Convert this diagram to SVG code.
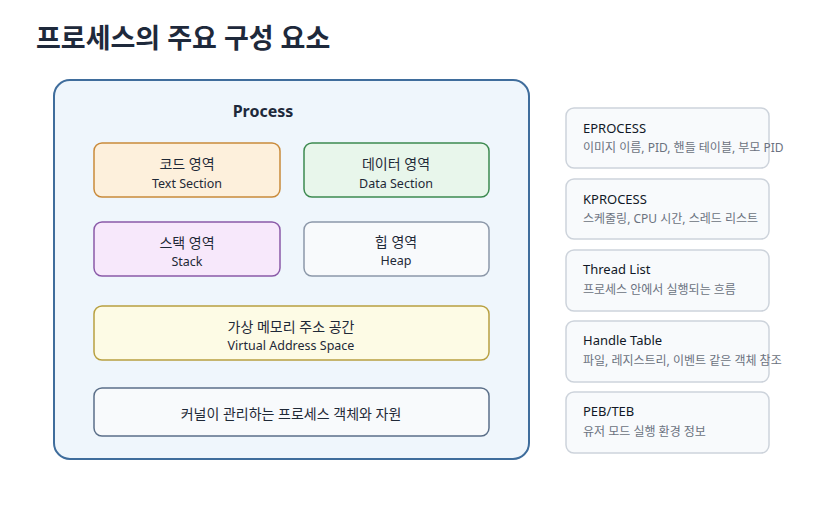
<svg xmlns="http://www.w3.org/2000/svg" width="816" height="524" viewBox="0 0 816 524">
<style>
text{font-family:"Noto Sans","Noto Sans CJK KR",sans-serif;}
.title{font-size:27px;font-weight:700;fill:#1e293b;}
.ptitle{font-size:16px;font-weight:700;fill:#1e293b;text-anchor:middle;}
.lbl{font-size:14px;fill:#1f2937;text-anchor:middle;}
.sub{font-size:12.5px;fill:#1f2937;text-anchor:middle;}
.card{fill:#f8fafc;stroke:#cdd3db;stroke-width:1.5;}
.ct{font-size:13px;fill:#111827;}
.cs{font-size:12px;fill:#6b7280;}
</style>
<rect width="816" height="524" fill="#ffffff"/>
<text class="title" x="36" y="48">프로세스의 주요 구성 요소</text>
<g id="process">
<rect x="54" y="80" width="475" height="379" rx="16" fill="#eff6fc" stroke="#3f6d9c" stroke-width="2"/>
<text class="ptitle" x="263" y="117">Process</text>
</g>
<g id="code">
<rect x="94" y="143" width="186" height="54" rx="8" fill="#fdf0dc" stroke="#c98a3a" stroke-width="1.5"/>
<text class="lbl" x="187" y="169">코드 영역</text>
<text class="sub" x="187" y="188">Text Section</text>
</g>
<g id="data">
<rect x="304" y="143" width="185" height="54" rx="8" fill="#e8f6eb" stroke="#3d8a50" stroke-width="1.5"/>
<text class="lbl" x="396" y="169">데이터 영역</text>
<text class="sub" x="396" y="188">Data Section</text>
</g>
<g id="stack">
<rect x="94" y="222" width="186" height="54" rx="8" fill="#f7e8fb" stroke="#8a5aa8" stroke-width="1.5"/>
<text class="lbl" x="187" y="248">스택 영역</text>
<text class="sub" x="187" y="266">Stack</text>
</g>
<g id="heap">
<rect x="304" y="222" width="185" height="54" rx="8" fill="#f8fafc" stroke="#8c98a9" stroke-width="1.5"/>
<text class="lbl" x="396" y="247">힙 영역</text>
<text class="sub" x="396" y="265">Heap</text>
</g>
<g id="vas">
<rect x="94" y="306" width="395" height="54" rx="8" fill="#fdfbe5" stroke="#b8a040" stroke-width="1.5"/>
<text class="lbl" x="291" y="332">가상 메모리 주소 공간</text>
<text class="sub" x="291" y="350">Virtual Address Space</text>
</g>
<g id="kernel">
<rect x="94" y="388" width="395" height="48" rx="8" fill="#f8fafc" stroke="#5b6f89" stroke-width="1.5"/>
<text class="lbl" x="291" y="419">커널이 관리하는 프로세스 객체와 자원</text>
</g>
<g id="eprocess">
<rect class="card" x="566" y="108" width="203" height="60" rx="8"/>
<text class="ct" x="583" y="133">EPROCESS</text>
<text class="cs" x="583" y="152">이미지 이름, PID, 핸들 테이블, 부모 PID</text>
</g>
<g id="kprocess">
<rect class="card" x="566" y="179" width="203" height="60" rx="8"/>
<text class="ct" x="583" y="204">KPROCESS</text>
<text class="cs" x="583" y="223">스케줄링, CPU 시간, 스레드 리스트</text>
</g>
<g id="threadlist">
<rect class="card" x="566" y="250" width="203" height="61" rx="8"/>
<text class="ct" x="583" y="274">Thread List</text>
<text class="cs" x="583" y="294">프로세스 안에서 실행되는 흐름</text>
</g>
<g id="handletable">
<rect class="card" x="566" y="321" width="203" height="61" rx="8"/>
<text class="ct" x="583" y="345">Handle Table</text>
<text class="cs" x="583" y="365">파일, 레지스트리, 이벤트 같은 객체 참조</text>
</g>
<g id="pebteb">
<rect class="card" x="566" y="392" width="203" height="61" rx="8"/>
<text class="ct" x="583" y="416">PEB/TEB</text>
<text class="cs" x="583" y="436">유저 모드 실행 환경 정보</text>
</g>
<g id="connectors"></g>
</svg>
